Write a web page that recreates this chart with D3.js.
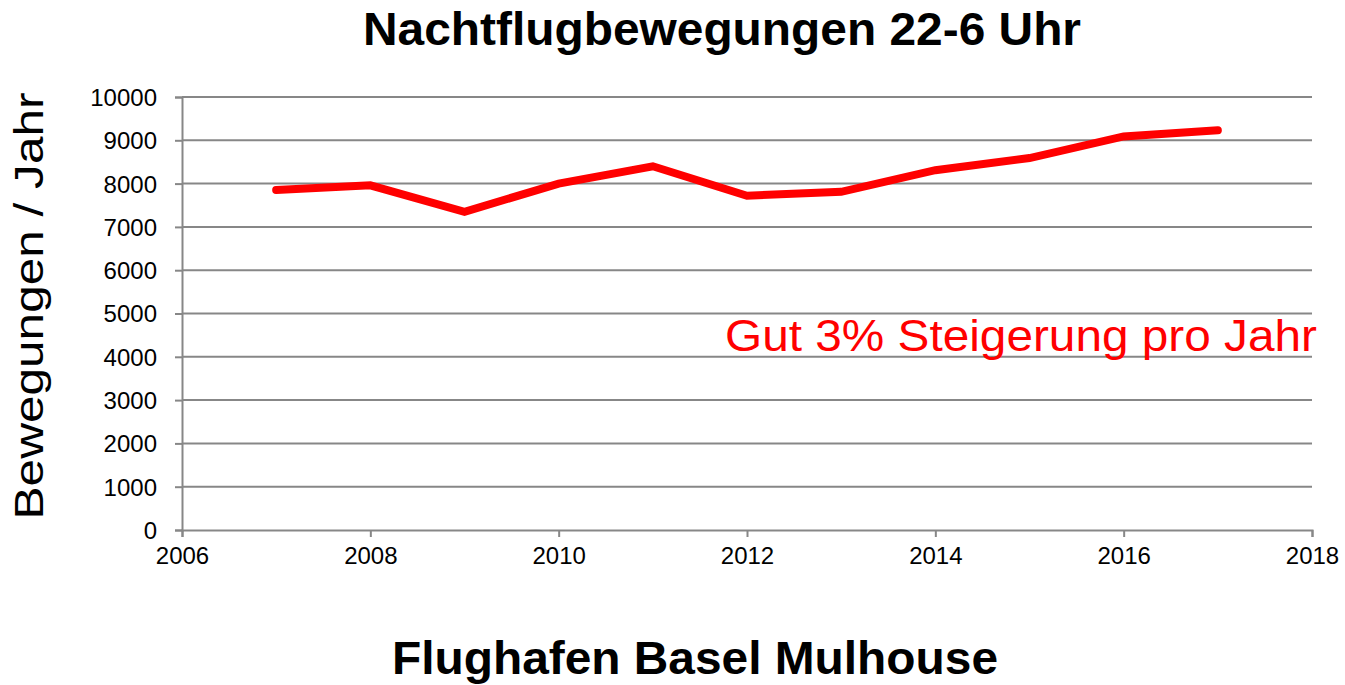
<!DOCTYPE html>
<html>
<head>
<meta charset="utf-8">
<script src="https://cdn.jsdelivr.net/npm/d3@7"></script>
<style>
  body { margin: 0; background: #fff; }
  text { font-family: "Liberation Sans", Arial, sans-serif; }
</style>
</head>
<body>
<div id="chart"></div>
<script>
var years = [2007, 2008, 2009, 2010, 2011, 2012, 2013, 2014, 2015, 2016, 2017];
var movements = [7850, 7960, 7350, 8000, 8400, 7720, 7810, 8310, 8590, 9090, 9230];
var xTicks = [2006, 2008, 2010, 2012, 2014, 2016, 2018];
var yTicks = [0, 1000, 2000, 3000, 4000, 5000, 6000, 7000, 8000, 9000, 10000];

var width = 1345,
  height = 685,
  margin = { top: 97, right: 33, bottom: 155, left: 182 };

var svg = d3.select("#chart").append("svg")
  .attr("width", width)
  .attr("height", height);

var x = d3.scaleLinear().domain([2006, 2018]).range([margin.left, width - margin.right]),
  y = d3.scaleLinear().domain([0, 10000]).range([height - margin.bottom, margin.top]);

// horizontal gridlines
svg.append("g")
  .selectAll("line")
  .data(yTicks.filter(function(d) { return d > 0; }))
  .join("line")
  .attr("x1", margin.left)
  .attr("x2", width - margin.right)
  .attr("y1", function(d) { return y(d); })
  .attr("y2", function(d) { return y(d); })
  .attr("stroke", "#878787")
  .attr("stroke-width", 2);

var yAxis = svg.append("g")
  .attr("transform", "translate(" + margin.left + ",0)")
  .call(d3.axisLeft(y).tickValues(yTicks).tickSize(7).tickPadding(18).tickFormat(d3.format("d")));

var xAxis = svg.append("g")
  .attr("transform", "translate(0," + (height - margin.bottom) + ")")
  .call(d3.axisBottom(x).tickValues(xTicks).tickSize(7).tickPadding(10).tickFormat(d3.format("d")));

[yAxis, xAxis].forEach(function(a) {
  a.select(".domain").attr("stroke", "#878787").attr("stroke-width", 2);
  a.selectAll(".tick line").attr("stroke", "#878787").attr("stroke-width", 2);
  a.selectAll(".tick text")
    .attr("fill", "#000")
    .style("font-size", "24px")
    .style("font-family", "'Liberation Sans', Arial, sans-serif");
});
yAxis.selectAll(".tick text").attr("dy", "0.35em");

// data line
var line = d3.line()
  .x(function(d, i) { return x(years[i]); })
  .y(function(d) { return y(d); });

svg.append("path")
  .datum(movements)
  .attr("d", line)
  .attr("fill", "none")
  .attr("stroke", "#ff0000")
  .attr("stroke-width", 8)
  .attr("stroke-linecap", "round")
  .attr("stroke-linejoin", "miter");

// titles
svg.append("text")
  .attr("x", 722)
  .attr("y", 45)
  .attr("text-anchor", "middle")
  .attr("font-weight", "bold")
  .attr("font-size", 47)
  .attr("textLength", 718)
  .attr("lengthAdjust", "spacingAndGlyphs")
  .text("Nachtflugbewegungen 22-6 Uhr");

svg.append("text")
  .attr("x", 695)
  .attr("y", 674)
  .attr("text-anchor", "middle")
  .attr("font-weight", "bold")
  .attr("font-size", 46)
  .attr("textLength", 606)
  .attr("lengthAdjust", "spacingAndGlyphs")
  .text("Flughafen Basel Mulhouse");

svg.append("text")
  .attr("transform", "translate(43,306) rotate(-90)")
  .attr("text-anchor", "middle")
  .attr("font-size", 41)
  .attr("textLength", 427)
  .attr("lengthAdjust", "spacingAndGlyphs")
  .text("Bewegungen / Jahr");

svg.append("text")
  .attr("x", 725)
  .attr("y", 351)
  .attr("fill", "#ff0000")
  .attr("font-size", 44)
  .attr("textLength", 592)
  .attr("lengthAdjust", "spacingAndGlyphs")
  .text("Gut 3% Steigerung pro Jahr");
</script>
</body>
</html>
